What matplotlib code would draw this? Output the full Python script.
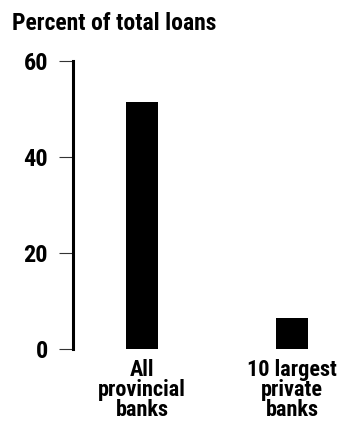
import matplotlib
matplotlib.use("Agg")
import matplotlib.pyplot as plt

# -- data
categories = ["All\nprovincial\nbanks", "10 largest\nprivate\nbanks"]
values = [51.5, 6.5]
yticks = [0, 20, 40, 60]

plt.rcParams['font.family'] = ['Roboto Condensed', 'Open Sans Condensed',
                               'Liberation Sans Narrow', 'Roboto', 'DejaVu Sans']
plt.rcParams['font.weight'] = 'heavy'
plt.rcParams['font.stretch'] = 'condensed'

fig = plt.figure(figsize=(3.45, 4.26), dpi=100)
ax = fig.add_axes([73 / 345, 1 - 349 / 426, 272 / 345, 288 / 426])

x = list(range(len(values)))
ax.bar(x, values, width=0.213, color="black")

ax.set_xlim(-0.46, 1.353)
ax.set_ylim(0, 60)
ax.set_yticks(yticks)
ax.set_yticklabels([str(t) for t in yticks], fontsize=17.5)
ax.tick_params(axis='y', length=10, width=0.8, pad=8, direction='out',
               color='#333333')
ax.set_xticks(x)
ax.set_xticklabels(categories, fontsize=16, linespacing=0.88)
ax.tick_params(axis='x', length=0, pad=7)

for s in ['top', 'right', 'bottom']:
    ax.spines[s].set_visible(False)
ax.spines['left'].set_linewidth(2.2)

fig.text(12 / 345, 1 - 23 / 426, "Percent of total loans", fontsize=17,
         va='center', ha='left')

fig.savefig("out.png", dpi=100)
